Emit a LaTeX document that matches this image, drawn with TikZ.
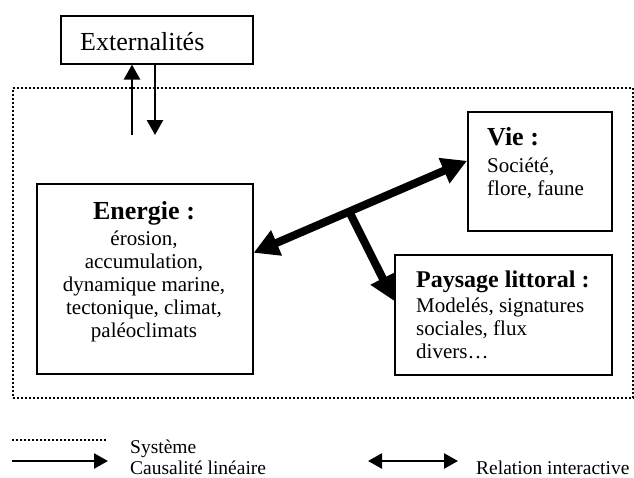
\documentclass[tikz,border=0pt]{standalone}
\usepackage{fontspec}
\setmainfont{Liberation Serif}
\usetikzlibrary{arrows.meta,calc}
\begin{document}
\begin{tikzpicture}[x=1pt,y=-1pt,
  box/.style={draw,line width=1.6pt,inner sep=0pt,anchor=north west},
  head/.style={inner sep=0pt,font=\bfseries\fontsize{26}{28}\selectfont},
  body/.style={inner sep=0pt,font=\fontsize{21}{23}\selectfont},
  legtext/.style={inner sep=0pt,anchor=base west,font=\fontsize{19.5}{21}\selectfont},
  sysline/.style={line width=2pt,dash pattern=on 2pt off 2pt},
  thin/.style={line width=2.6pt,-{Triangle[length=15pt,width=16pt]}},
  big/.style={line width=8pt,{Triangle[length=25pt,width=26pt]}-{Triangle[length=25pt,width=26pt]}},
  bigone/.style={line width=8pt,-{Triangle[length=25pt,width=26pt]}}
]
\useasboundingbox (0,0) rectangle (634,477);

% system frame
\node[sysline,draw,inner sep=0pt,anchor=north west,minimum width=620pt,minimum height=310pt] (sys) at (12,87) {};

% boxes
\node[box,minimum width=192pt,minimum height=48pt] (ext) at (60,15) {};
\node[box,minimum width=216pt,minimum height=190pt] (en) at (36,183) {};
\node[box,minimum width=144pt,minimum height=119pt] (vie) at (467,111) {};
\node[box,minimum width=217pt,minimum height=120pt] (pay) at (394,254) {};

% texts (multi-line nodes: base = last line)
\node[inner sep=0pt,anchor=base west,font=\fontsize{26}{28}\selectfont] (extt) at (80,50) {Externalités};
\node[head,anchor=base] (enh) at (144,219) {Energie :};
\node[body,anchor=base,align=center] (enb) at (144,337) {érosion,\\accumulation,\\dynamique marine,\\tectonique, climat,\\paléoclimats};
\node[head,anchor=base west] (vieh) at (487,145) {Vie :};
\node[body,anchor=base west,align=left] (vieb) at (487,195) {Société,\\flore, faune};
\node[head,anchor=base west,font=\bfseries\fontsize{24}{26}\selectfont] (payh) at (416,287) {Paysage littoral :};
\node[body,anchor=base west,align=left] (payb) at (416,358) {Modelés, signatures\\sociales, flux\\divers…};

% externalities arrows
\coordinate (up) at (132,135);
\coordinate (dn) at (155,135);
\draw[thin] (up) -- (up |- ext.south);
\draw[thin] (dn |- ext.south) -- (dn);

% interactive relations
\coordinate (ena) at ([yshift=26pt]en.east);
\coordinate (viea) at ([yshift=10.5pt]vie.west);
\coordinate (paya) at ([yshift=14pt]pay.west);
\coordinate (j) at ($(ena)!0.448!(viea)$);
\draw[big] (ena) -- (viea);
\draw[bigone] (j) -- (paya);

% legend
\coordinate (l1a) at (12,440); \coordinate (l1b) at (107,440);
\draw[sysline] (l1a) -- (l1b);
\coordinate (l2a) at (12,461); \coordinate (l2b) at (108,461);
\draw[line width=2.5pt,-{Triangle[length=14pt,width=15pt]}] (l2a) -- (l2b);
\node[legtext] (ls) at (130,453) {Système};
\node[legtext] (lc) at (130,474) {Causalité linéaire};
\coordinate (l3a) at (368,461); \coordinate (l3b) at (458,461);
\draw[line width=2.5pt,{Triangle[length=14pt,width=15pt]}-{Triangle[length=14pt,width=15pt]}] (l3a) -- (l3b);
\node[legtext] (lr) at (476,474) {Relation interactive};
\end{tikzpicture}
\end{document}
